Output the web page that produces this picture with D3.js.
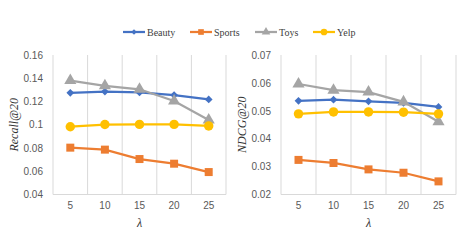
<!DOCTYPE html>
<html>
<head>
<meta charset="utf-8">
<script src="https://cdn.jsdelivr.net/npm/d3@7"></script>
<style>
  body { margin: 0; background: #fff; }
  .tick text { fill: #595959; font-family: 'Liberation Sans', Arial, sans-serif; font-size: 10px; }
  .title { font-family: 'Liberation Serif', 'DejaVu Serif', serif; font-style: italic; font-size: 12px; fill: #333; }
  .legend text { font-family: 'Liberation Serif', serif; font-size: 10px; fill: #404040; }
</style>
</head>
<body>
<svg id="chart" width="463" height="250"></svg>
<script>
const lambdas = ['5', '10', '15', '20', '25']
const seriesNames = ['Beauty', 'Sports', 'Toys', 'Yelp']
const colors = ['#4472C4', '#ED7D31', '#A5A5A5', '#FFC000']
const symbols = [d3.symbolSquare, d3.symbolSquare, d3.symbolTriangle, d3.symbolCircle]
const symbolRotate = [45, 0, 0, 0]
const symbolSizes = [30, 64, 64, 70]

const recall = {
  Beauty: [0.1275, 0.1285, 0.1278, 0.1255, 0.1218],
  Sports: [0.0803, 0.0786, 0.0705, 0.0665, 0.0593],
  Toys: [0.138, 0.1335, 0.1305, 0.1205, 0.1040],
  Yelp: [0.0983, 0.1002, 0.1003, 0.1003, 0.0990]
}
const ndcg = {
  Beauty: [0.0536, 0.0540, 0.0534, 0.0528, 0.0514],
  Sports: [0.0324, 0.0313, 0.0290, 0.0278, 0.0247],
  Toys: [0.0596, 0.0574, 0.0567, 0.0532, 0.0461],
  Yelp: [0.0489, 0.0496, 0.0496, 0.0495, 0.0489]
}

const svg = d3.select('#chart')

const panels = [
  { data: recall, title: 'Recall@20', left: 53, right: 226, domain: [0.04, 0.16], ticks: [0.04, 0.06, 0.08, 0.1, 0.12, 0.14, 0.16], titleX: 14 },
  { data: ndcg, title: 'NDCG@20', left: 281, right: 456, domain: [0.02, 0.07], ticks: [0.02, 0.03, 0.04, 0.05, 0.06, 0.07], titleX: 242 }
]
const plotTop = 55
const plotBottom = 194.5

panels.forEach((p) => {
  const x = d3.scaleBand().domain(lambdas).range([p.left, p.right])
  const y = d3.scaleLinear().domain(p.domain).range([plotBottom, plotTop])
  const g = svg.append('g')

  // vertical grid lines at band edges
  g.selectAll('.grid')
    .data(d3.range(lambdas.length + 1))
    .enter()
    .append('line')
    .attr('x1', (i) => p.left + i * x.step())
    .attr('x2', (i) => p.left + i * x.step())
    .attr('y1', plotTop)
    .attr('y2', plotBottom)
    .style('stroke', '#d9d9d9')
    .style('stroke-width', 1)

  g.append('line')
    .attr('x1', p.left).attr('x2', p.right)
    .attr('y1', plotBottom).attr('y2', plotBottom)
    .style('stroke', '#d9d9d9')

  const yAxis = g.append('g')
    .attr('transform', `translate(${p.left},0)`)
    .call(d3.axisLeft(y).tickValues(p.ticks).tickSize(0).tickPadding(10).tickFormat((d) => String(+d.toFixed(2))))
  yAxis.select('.domain').remove()

  const xAxis = g.append('g')
    .attr('transform', `translate(0,${plotBottom})`)
    .call(d3.axisBottom(x).tickSize(0).tickPadding(7))
  xAxis.select('.domain').remove()

  g.append('text')
    .attr('class', 'title')
    .attr('transform', `translate(${p.titleX},${(plotTop + plotBottom) / 2}) rotate(-90)`)
    .attr('text-anchor', 'middle')
    .attr('dy', '0.35em')
    .text(p.title)

  g.append('text')
    .attr('class', 'title')
    .attr('x', (p.left + p.right) / 2)
    .attr('y', 227)
    .attr('text-anchor', 'middle')
    .text('λ')

  const line = d3.line()
    .x((d, i) => x(lambdas[i]) + x.bandwidth() / 2)
    .y((d) => y(d))

  seriesNames.forEach((name, si) => {
    g.append('path')
      .datum(p.data[name])
      .attr('d', line)
      .style('fill', 'none')
      .style('stroke', colors[si])
      .style('stroke-width', 2.25)

    g.selectAll(`.m${si}`)
      .data(p.data[name])
      .enter()
      .append('path')
      .attr('transform', (d, i) => `translate(${x(lambdas[i]) + x.bandwidth() / 2},${y(d)}) rotate(${symbolRotate[si]})`)
      .attr('d', d3.symbol().type(symbols[si]).size(symbolSizes[si]))
      .style('fill', colors[si])
  })
})

// legend
const legendX = [123, 190, 255, 313]
const legend = svg.append('g').attr('class', 'legend')
seriesNames.forEach((name, si) => {
  const lg = legend.append('g').attr('transform', `translate(${legendX[si]},32)`)
  lg.append('line')
    .attr('x1', 0).attr('x2', 22)
    .style('stroke', colors[si])
    .style('stroke-width', 2.25)
  lg.append('path')
    .attr('transform', `translate(11,0) rotate(${symbolRotate[si]})`)
    .attr('d', d3.symbol().type(symbols[si]).size(symbolSizes[si] * 0.5))
    .style('fill', colors[si])
  lg.append('text')
    .attr('x', 24)
    .attr('dy', '0.35em')
    .text(name)
})
</script>
</body>
</html>
